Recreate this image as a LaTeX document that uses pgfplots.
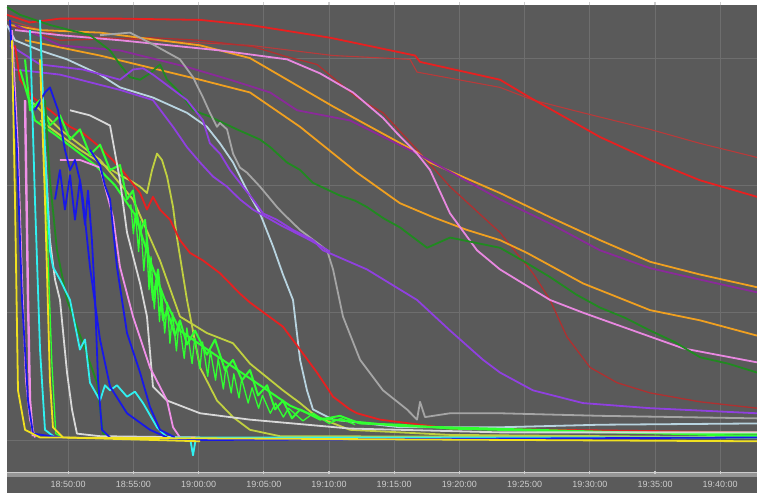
\documentclass[border=0pt]{standalone}
\usepackage{pgfplots}
\pgfplotsset{compat=1.18}
\usepackage{fontspec}
\setmainfont{Liberation Sans}
\definecolor{bg}{RGB}{90,90,90}
\definecolor{gridc}{RGB}{110,110,110}
\definecolor{barc}{RGB}{150,150,150}
\definecolor{labc}{RGB}{205,205,205}
\definecolor{cRed}{RGB}{232,32,32}
\definecolor{cRedThin}{RGB}{184,58,58}
\definecolor{cBrown}{RGB}{176,48,48}
\definecolor{cOrange}{RGB}{240,160,32}
\definecolor{cDPurple}{RGB}{138,42,154}
\definecolor{cOrchid}{RGB}{232,136,224}
\definecolor{cDGreen}{RGB}{32,138,32}
\definecolor{cGray}{RGB}{165,165,165}
\definecolor{cLBlue}{RGB}{184,212,224}
\definecolor{cViolet}{RGB}{144,64,224}
\definecolor{cLime}{RGB}{48,255,48}
\definecolor{cOlive}{RGB}{192,208,64}
\definecolor{cCyan}{RGB}{48,240,240}
\definecolor{cBlue}{RGB}{24,24,232}
\definecolor{cPink}{RGB}{240,144,232}
\definecolor{cWhite}{RGB}{216,216,216}
\definecolor{cYellow}{RGB}{240,224,32}
\begin{document}
\begin{tikzpicture}
\fill[bg] (0pt,0pt) rectangle (750pt,22pt);
\fill[barc] (0pt,16pt) rectangle (750pt,21pt);
\draw[labc, line width=0.6pt] (0pt,21pt) -- (750pt,21pt);
\begin{axis}[
  at={(0pt,22pt)}, anchor=south west,
  width=750pt, height=466pt, scale only axis,
  xmin=0.307, xmax=57.82, ymin=-0.2435, ymax=3.417,
  axis background/.style={fill=bg},
  axis line style={draw=none},
  xtick={5,10,...,55},
  xticklabels={18:50:00,18:55:00,19:00:00,19:05:00,19:10:00,19:15:00,19:20:00,19:25:00,19:30:00,19:35:00,19:40:00},
  ytick={0,1,2,3}, yticklabels={},
  ytick style={draw=none},
  xtick style={labc, line width=1.2pt},
  major tick length=3pt, tick align=outside,
  xmajorgrids, ymajorgrids,
  grid style={gridc, line width=1pt},
  xticklabel style={anchor=center, yshift=-10pt, font=\fontsize{9}{10}\selectfont, text=labc},
  /pgf/number format/assume math mode=true,
  no markers,
  every axis plot/.append style={line width=1.8pt, line join=round},
]
% slow series
\addplot[cRedThin, line width=1.1pt] coordinates {(0.31,3.30)(4.37,3.18)(11.27,3.14)(18.94,3.10)(25.31,3.02)(31.21,2.99)(31.75,2.89)(38.11,2.77)(40.64,2.67)(44.48,2.57)(49.62,2.44)(53.45,2.33)(57.82,2.22)};
\addplot[cRed] coordinates {(0.31,3.34)(2.07,3.28)(4.37,3.31)(8.97,3.31)(15.11,3.30)(18.94,3.26)(25.08,3.16)(31.60,3.02)(31.98,2.97)(38.11,2.83)(40.41,2.69)(45.78,2.38)(49.62,2.20)(53.45,2.04)(57.82,1.91)};
\addplot[cBrown, line width=1.3pt] coordinates {(0.31,3.26)(4.37,3.14)(11.27,3.16)(15.11,3.14)(19.17,3.09)(21.78,3.01)(24.08,2.95)(27.15,2.69)(29.14,2.57)(31.75,2.28)(34.28,1.99)(38.11,1.63)(40.64,1.31)(41.95,1.10)(43.25,0.81)(45.02,0.57)(47.09,0.45)(49.62,0.37)(53.45,0.30)(57.82,0.25)};
\addplot[cOrange] coordinates {(0.54,3.26)(2.84,3.22)(7.44,3.20)(15.11,3.10)(18.94,3.00)(25.31,2.62)(31.75,2.26)(32.75,2.18)(38.11,1.94)(41.95,1.75)(45.78,1.57)(49.62,1.40)(53.45,1.30)(57.82,1.20)};
\addplot[cOrange] coordinates {(1.69,3.14)(7.44,3.02)(15.11,2.83)(18.94,2.73)(22.78,2.46)(27.15,2.10)(30.44,1.86)(32.98,1.75)(35.58,1.65)(38.11,1.57)(40.18,1.47)(44.48,1.23)(49.62,1.02)(53.45,0.94)(57.82,0.82)};
\addplot[cDPurple] coordinates {(0.92,3.26)(4.37,3.10)(8.97,3.06)(14.11,2.93)(17.41,2.83)(20.48,2.73)(22.55,2.59)(26.61,2.51)(31.75,2.25)(38.11,1.89)(41.95,1.70)(45.78,1.49)(49.62,1.35)(53.45,1.26)(57.82,1.16)};
\addplot[cOrchid] coordinates {(0.92,3.22)(4.37,3.18)(8.97,3.14)(16.64,3.06)(21.78,2.99)(24.31,2.88)(26.84,2.73)(29.14,2.53)(30.21,2.41)(31.75,2.25)(32.75,2.12)(34.28,1.78)(36.35,1.49)(38.11,1.34)(41.95,1.10)(44.48,1.00)(48.31,0.86)(52.15,0.72)(57.82,0.61)};
\addplot[cDGreen] coordinates {(0.31,3.40)(1.30,3.34)(3.60,3.26)(6.67,3.18)(8.21,3.06)(8.97,2.95)(9.74,2.85)(10.51,2.83)(11.27,2.88)(12.04,2.95)(12.58,2.83)(13.57,2.73)(14.57,2.59)(15.87,2.54)(17.94,2.44)(19.71,2.36)(20.5,2.30)(21.78,2.18)(22.8,2.12)(23.77,2.02)(25.84,1.92)(27.0,1.88)(27.91,1.83)(29.2,1.74)(30.44,1.67)(32.52,1.51)(34.28,1.59)(36.2,1.55)(38.11,1.51)(40.0,1.40)(41.95,1.28)(44.0,1.14)(45.78,1.04)(47.7,0.96)(49.62,0.86)(51.5,0.77)(53.45,0.65)(55.6,0.60)(57.82,0.53)};
\addplot[cGray] coordinates {(7.44,3.18)(9.74,3.20)(11.27,3.12)(13.57,2.99)(14.57,2.85)(15.34,2.69)(15.87,2.57)(16.41,2.46)(16.64,2.49)(17.18,2.44)(17.64,2.25)(18.17,2.14)(18.71,2.10)(19.71,1.99)(21.01,1.83)(21.47,1.78)(22.78,1.65)(24.85,1.49)(25.31,1.34)(26.07,0.97)(27.38,0.63)(29.14,0.39)(30.98,0.24)(31.75,0.16)(31.98,0.30)(32.36,0.18)(34.28,0.21)(38.11,0.21)(45.78,0.19)(57.82,0.17)};
\addplot[cLBlue] coordinates {(0.31,3.26)(0.92,3.14)(2.84,3.06)(4.91,2.99)(7.44,2.87)(8.97,2.77)(11.50,2.69)(14.11,2.57)(15.64,2.46)(16.64,2.33)(17.64,2.18)(18.71,1.96)(19.71,1.78)(20.71,1.52)(21.47,1.30)(22.24,1.10)(22.78,0.63)(23.31,0.39)(23.77,0.24)(25.31,0.16)(30.44,0.10)(38.11,0.10)(45.78,0.12)(57.82,0.13)};
\addplot[cViolet] coordinates {(0.54,3.10)(2.84,2.95)(6.13,2.91)(8.97,2.83)(9.97,2.91)(10.74,2.92)(11.50,2.87)(12.81,2.77)(14.11,2.67)(15.34,2.51)(15.87,2.33)(16.64,2.25)(17.41,2.12)(18.40,1.99)(19.17,1.89)(19.94,1.78)(21.01,1.73)(22.24,1.65)(23.77,1.57)(24.54,1.49)(27.91,1.34)(31.75,1.10)(34.28,0.86)(36.81,0.63)(38.11,0.53)(40.64,0.39)(44.48,0.29)(49.62,0.25)(57.82,0.21)};
\addplot[cViolet] coordinates {(0.92,2.91)(4.37,2.87)(8.97,2.75)(11.50,2.67)(13.04,2.46)(14.11,2.30)(15.11,2.18)(16.10,2.07)(17.18,1.99)(18.17,1.89)(19.17,1.81)(21.24,1.69)(23.54,1.57)(25.08,1.48)};

% fast series
\addplot[cOlive] coordinates {(2.07,2.67)(4.37,2.44)(7.44,2.20)(9.97,1.89)(12.04,1.41)(13.57,0.97)(15.64,0.84)(17.64,0.76)(18.94,0.60)(21.47,0.39)(22.78,0.29)(24.08,0.18)(26.61,0.08)(34.28,0.04)(57.82,0.02)};
\addplot[cOlive] coordinates {(2.84,2.51)(5.90,2.28)(8.97,2.08)(9.74,2.04)(10.51,1.99)(11.04,1.94)(11.43,2.12)(11.81,2.25)(12.19,2.20)(12.58,2.07)(13.04,1.83)(13.34,1.59)(14.11,1.10)(15.11,0.57)(16.41,0.31)(17.64,0.18)(18.94,0.08)(21.24,0.03)(57.82,0.02)};
\addplot[cRed] coordinates {(0.92,3.10)(1.30,2.83)(2.30,2.69)(3.60,2.59)(5.14,2.46)(6.13,2.41)(7.44,2.30)(8.97,2.14)(10.51,1.94)(11.04,1.81)(11.50,1.91)(12.04,1.81)(12.81,1.73)(13.57,1.57)(14.34,1.47)(15.34,1.41)(16.64,1.31)(18.17,1.15)(18.94,1.08)(21.47,0.89)(22.78,0.71)(24.08,0.53)(25.31,0.34)(26.61,0.24)(27.15,0.21)(28.91,0.16)(34.28,0.09)(41.95,0.08)(57.82,0.06)};
\addplot[cLime, line width=2pt] coordinates {(1.30,2.91)(2.45,2.51)(3.99,2.40)(5.52,2.28)(7.06,2.16)(8.59,2.00)(10.12,1.77)(11.27,1.41)(12.42,1.10)(13.57,0.86)(15.11,0.75)(17.41,0.59)(19.71,0.43)(22.01,0.27)(24.31,0.17)(30.44,0.11)(57.82,0.03)};
\addplot[cLime, line width=2pt] coordinates {(1.69,2.99)(2.07,2.59)(2.84,2.67)(3.60,2.47)(4.37,2.55)(5.14,2.36)(5.90,2.44)(6.67,2.24)(7.44,2.32)(8.21,2.12)(8.97,2.16)(9.51,1.89)(9.97,1.96)(10.51,1.63)(10.89,1.73)(11.50,1.10)(11.89,1.34)(12.27,0.94)(12.58,1.02)(13.19,0.82)(13.57,0.94)(14.11,0.75)(14.72,0.86)(15.64,0.67)(16.26,0.79)(17.02,0.55)(17.64,0.63)(18.33,0.47)(18.94,0.55)(19.56,0.35)(20.25,0.43)(20.86,0.24)(21.47,0.31)(22.16,0.17)(22.78,0.24)(24.31,0.16)(25.84,0.19)(27.38,0.13)(30.44,0.12)(34.28,0.09)(38.11,0.08)(45.78,0.06)(57.82,0.05)};
\addplot[cLime, line width=1.3pt] coordinates {(9.8,1.85)(10.0,1.62)(10.15,1.78)(10.4,1.48)(10.55,1.72)(10.8,1.33)(11.0,1.58)(11.2,1.18)(11.35,1.44)(11.6,1.03)(11.8,1.28)(12.0,0.93)(12.15,1.18)(12.4,0.84)(12.6,1.08)(12.8,0.76)(13.0,1.00)(13.3,0.70)(13.5,0.93)(13.9,0.64)(14.1,0.88)(14.5,0.60)(14.7,0.80)(15.1,0.56)(15.3,0.77)(15.7,0.50)(15.9,0.70)(16.3,0.47)(16.5,0.64)(16.9,0.40)(17.1,0.58)(17.5,0.37)(17.7,0.52)(18.1,0.33)(18.3,0.48)(18.8,0.29)(19.1,0.41)(19.6,0.25)(19.9,0.35)(20.5,0.21)(20.9,0.29)(21.5,0.18)(21.9,0.25)(23.0,0.15)(23.8,0.21)(25.0,0.13)(25.9,0.17)(27.0,0.12)};
\addplot[cLime, line width=1.3pt] coordinates {(2.84,3.30)(3.22,2.20)(3.50,1.30)(3.75,0.60)(4.05,0.05)(4.6,0.02)};
\addplot[cDGreen] coordinates {(3.22,2.67)(3.60,2.04)(4.14,1.49)(4.91,1.10)(6.13,0.76)(7.21,0.45)(7.67,0.05)(8.21,0.02)};
\addplot[cWhite] coordinates {(5.14,2.59)(6.67,2.55)(8.21,2.47)(8.97,2.04)(9.51,1.63)(10.51,1.23)(11.04,0.97)(11.50,0.42)(12.58,0.31)(15.11,0.21)(18.94,0.16)(26.61,0.09)(38.11,0.06)(57.82,0.06)};
\addplot[cWhite] coordinates {(3.22,2.28)(3.60,1.57)(3.99,1.26)(4.37,1.10)(4.91,0.53)(5.29,0.24)(5.67,0.05)(7.44,0.03)(15.11,0.02)};
\addplot[cPink] coordinates {(4.37,2.20)(5.90,2.20)(7.44,2.14)(8.44,1.75)(8.97,1.36)(9.97,0.97)(11.27,0.57)(12.58,0.31)(13.04,0.10)(13.57,0.02)};
\addplot[cPink] coordinates {(0.69,3.22)(1.15,2.28)(1.46,1.26)(1.76,0.47)(2.07,0.16)(2.45,0.02)};
\addplot[cPink, line width=2.4pt] coordinates {(1.69,2.67)(1.92,1.10)(2.07,0.31)(2.30,0.03)};
\addplot[cCyan] coordinates {(2.84,3.30)(3.22,2.28)(3.60,1.49)(3.83,1.36)(4.37,1.26)(5.14,1.10)(5.90,0.71)(6.29,0.79)(6.67,0.45)(7.44,0.31)(7.82,0.43)(8.21,0.39)(8.74,0.43)(9.51,0.34)(10.12,0.38)(10.74,0.29)(11.81,0.10)(12.58,0.02)(14.34,0.02)(14.57,-0.12)(14.80,0.02)(57.82,0.02)};
\addplot[cCyan] coordinates {(2.07,3.22)(2.45,1.89)(2.84,0.71)(3.22,0.08)(3.99,0.02)};
\addplot[cBlue] coordinates {(2.45,2.59)(3.22,2.73)(3.60,2.77)(4.22,2.59)(4.75,2.28)(5.14,2.12)(5.52,2.20)(5.90,2.04)(6.13,1.89)(6.67,1.36)(7.44,0.79)(8.21,0.42)(9.51,0.21)(11.27,0.08)(12.58,0.02)};
\addplot[cBlue] coordinates {(6.67,2.28)(7.44,2.16)(7.82,2.00)(8.21,1.89)(8.74,1.36)(9.51,0.84)(10.51,0.53)(11.27,0.26)(12.04,0.08)(13.19,0.02)};
\addplot[cBlue] coordinates {(3.99,1.89)(4.37,2.12)(4.75,1.81)(5.14,2.08)(5.52,1.73)(5.90,2.04)(6.29,1.69)(6.52,1.96)(6.82,1.57)(7.06,1.10)(7.29,0.47)(7.59,0.08)(8.21,0.02)};
\addplot[cBlue] coordinates {(0.54,3.30)(1.07,2.28)(1.46,1.10)(1.92,0.31)(2.30,0.05)(4.37,0.02)(15.11,0.00)(57.82,0.02)};
\addplot[cYellow] coordinates {(0.69,3.14)(0.92,1.89)(1.15,0.39)(1.69,0.08)(2.84,0.02)(57.82,-0.01)};
\addplot[cYellow] coordinates {(2.84,2.99)(3.22,1.89)(3.60,0.47)(3.83,0.10)(4.60,0.02)(15.11,-0.01)};
\end{axis}
\pgfresetboundingbox
\path (-7pt,0pt) rectangle (750pt,493pt);
\end{tikzpicture}
\end{document}
